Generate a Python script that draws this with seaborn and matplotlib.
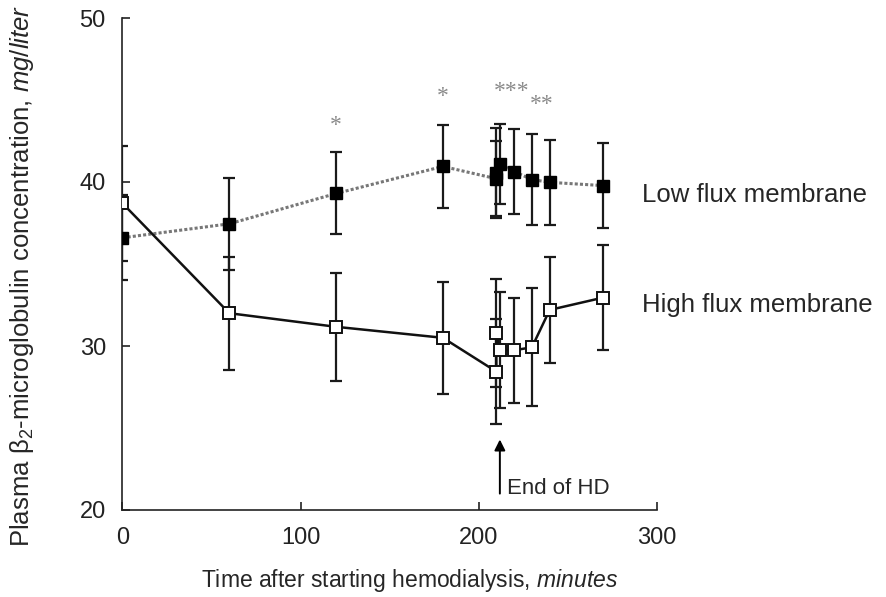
import matplotlib
matplotlib.use("Agg")
import matplotlib.pyplot as plt
import pandas as pd
import seaborn as sns

# Sampling times (minutes after start of hemodialysis)
time_min = [0, 60, 120, 180, 210, 210, 212, 220, 230, 240, 270]

# Plasma beta2-microglobulin, mg/liter (mean and SD)
low_flux_mean = [36.6, 37.45, 39.3, 40.95, 40.2, 40.55, 41.1, 40.64, 40.15, 39.98, 39.78]
low_flux_sd = [2.6, 2.8, 2.5, 2.55, 2.3, 2.75, 2.45, 2.6, 2.8, 2.6, 2.6]
high_flux_mean = [38.7, 32.0, 31.17, 30.5, 28.44, 30.77, 29.74, 29.74, 29.92, 32.2, 32.95]
high_flux_sd = [3.5, 3.45, 3.3, 3.4, 3.2, 3.3, 3.55, 3.2, 3.6, 3.25, 3.2]

x_ticks = [0, 100, 200, 300]
y_ticks = [20, 30, 40, 50]

# Significance marks above the low flux curve
star_times = [120, 180, 218.5, 235.5]
star_levels = [43.8, 45.6, 45.9, 45.1]
star_texts = ["*", "*", "***", "**"]

end_of_hd_time = 212

sns.set_style("ticks")
plt.rcParams["font.family"] = ["Liberation Sans", "DejaVu Sans"]
plt.rcParams["mathtext.fontset"] = "custom"
plt.rcParams["mathtext.rm"] = "Liberation Sans"
plt.rcParams["mathtext.it"] = "Liberation Sans:italic"

W, H = 887, 597
fig = plt.figure(figsize=(W / 100, H / 100), dpi=100)
x0, x1, yb, yt = 122.5, 656.5, 510, 18
ax = fig.add_axes([x0 / W, 1 - yb / H, (x1 - x0) / W, (yb - yt) / H])

low_df = pd.DataFrame({"time": time_min, "conc": low_flux_mean, "sd": low_flux_sd})
high_df = pd.DataFrame({"time": time_min, "conc": high_flux_mean, "sd": high_flux_sd})

for df in (low_df, high_df):
    ax.errorbar(df["time"], df["conc"], yerr=df["sd"], fmt="none",
                ecolor="#1a1a1a", elinewidth=1.6, capsize=4.0, capthick=1.6,
                zorder=2)

sns.lineplot(data=low_df, x="time", y="conc", estimator=None, sort=False,
             ax=ax, color="#777777", linestyle=(0, (1, 0.7)), linewidth=2.2,
             marker="s", markersize=8.5, markerfacecolor="black",
             markeredgecolor="black", markeredgewidth=1.0, zorder=3)
sns.lineplot(data=high_df, x="time", y="conc", estimator=None, sort=False,
             ax=ax, color="#111111", linewidth=1.8,
             marker="s", markersize=8.5, markerfacecolor="white",
             markeredgecolor="#111111", markeredgewidth=1.4, zorder=3)

for t, lvl, s in zip(star_times, star_levels, star_texts):
    ax.text(t, lvl - 0.7, s, ha="center", va="baseline", color="#8a8a8a",
            fontsize=17, family="Liberation Serif")

ax.annotate("", xy=(end_of_hd_time, 24.3), xytext=(end_of_hd_time, 21.0),
            arrowprops=dict(arrowstyle="-|>", color="black", lw=1.4,
                            mutation_scale=16, shrinkA=0, shrinkB=0))
ax.text(216.0, 21.3, "End of HD", ha="left", va="center", fontsize=16)

ax.text(292, 39.2, "Low flux membrane", ha="left", va="center",
        fontsize=18.5, clip_on=False)
ax.text(292, 32.5, "High flux membrane", ha="left", va="center",
        fontsize=18.5, clip_on=False)

ax.set_xlim(0, 300)
ax.set_ylim(20, 50)
ax.set_xticks(x_ticks)
ax.set_yticks(y_ticks)
ax.tick_params(direction="in", length=6, width=1.2, labelsize=17, pad=12,
               colors="#222222")
for side in ("top", "right"):
    ax.spines[side].set_visible(False)
for side in ("left", "bottom"):
    ax.spines[side].set_linewidth(1.2)
    ax.spines[side].set_color("#222222")

ax.set_xlabel(r"Time after starting hemodialysis, $\mathit{minutes}$",
              fontsize=16.5)
ax.set_ylabel(r"Plasma β$_2$-microglobulin concentration, $\mathit{mg/liter}$",
              fontsize=18.5)
ax.xaxis.set_label_coords((410 - x0) / (x1 - x0), (yb - 580) / (yb - yt))
ax.yaxis.set_label_coords((22 - x0) / (x1 - x0), (yb - 276) / (yb - yt))
ax.xaxis.label.set_va("center")
ax.yaxis.label.set_va("center")

fig.savefig("out.png", dpi=100)
